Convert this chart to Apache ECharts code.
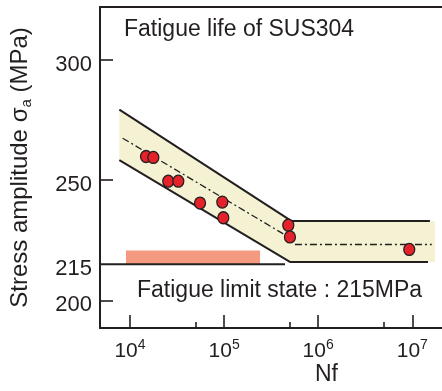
<!DOCTYPE html>
<html><head><meta charset="utf-8">
<script src="https://cdn.jsdelivr.net/npm/echarts@6/dist/echarts.min.js"></script>
<style>html,body{margin:0;padding:0;background:#fff}#c{width:442px;height:391px}</style>
</head><body><div id="c"></div>
<script>
// ---- axis ranges / ticks ----
const xMin = 4797, xMax = 20700000;
const yMin = 188.5, yMax = 322.1;
const xMajorTicks = [1e4, 1e5, 1e6, 1e7];
const xMinorTicks = [5e4, 5e5, 5e6];
const yTickMarks = [200, 250, 300];
const yTickLabels = [200, 215, 250, 300];

// ---- measured fatigue data ----
const pointNf = [14800, 17700, 25500, 32600, 55500, 95700, 98100, 481000, 501000, 9290000];
const pointStress = [259.9, 259.5, 249.6, 249.6, 240.5, 240.9, 234.4, 231.3, 226.4, 221.2];

// ---- scatter band boundaries ----
const upperNf = [7700, 522000, 15400000];
const upperStress = [279.4, 233.0, 233.0];
const lowerNf = [7700, 501000, 14700000];
const lowerStress = [258.4, 216.0, 216.0];
const fillUpperNf = [7700, 522000, 17400000];
const fillLowerNf = [7700, 501000, 17400000];

// ---- mean (dash-dot) line ----
const meanSlopeNf = [8360, 522000];
const meanSlopeStress = [267.5, 225.6];
const meanFlatNf = [566000, 16100000];
const meanFlatStress = [223.3, 223.3];

// ---- fatigue limit ----
const limitLineNf = [xMin, 444000];
const limitStress = 215;
const limitBarNf = [9060, 241000];
const limitBarStress = [215, 220.8];

const zip = (a, b) => a.map((v, i) => [v, b[i]]);
const ink = '#231f20';
const FONT = '"Liberation Sans", Arial, sans-serif';

const bandPoly = zip(fillUpperNf, upperStress).concat(zip(fillLowerNf, lowerStress).reverse());

const chart = echarts.init(document.getElementById('c'), null, {renderer: 'canvas'});
chart.setOption({
  animation: false,
  backgroundColor: '#fff',
  textStyle: {fontFamily: FONT, color: ink},
  grid: {left: 100, right: 0, top: 7, bottom: 63},
  xAxis: [
    {
      type: 'log', min: xMin, max: xMax, position: 'bottom',
      axisLine: {onZero: false, lineStyle: {color: ink, width: 2}},
      axisTick: {inside: true, length: 13, customValues: xMajorTicks, lineStyle: {color: ink, width: 1.6}},
      minorTick: {show: false},
      splitLine: {show: false},
      axisLabel: {
        customValues: xMajorTicks, margin: 10, color: ink,
        formatter: v => '{b|10}{s|' + Math.round(Math.log10(v)) + '}',
        rich: {
          b: {fontSize: 21, fontFamily: FONT, color: ink, lineHeight: 24, verticalAlign: 'bottom'},
          s: {fontSize: 14, fontFamily: FONT, color: ink, lineHeight: 24, verticalAlign: 'top'}
        }
      }
    },
    {
      type: 'log', min: xMin, max: xMax, position: 'bottom',
      axisLine: {show: false},
      axisTick: {inside: true, length: 6, customValues: xMinorTicks, lineStyle: {color: ink, width: 1.6}},
      axisLabel: {show: false},
      splitLine: {show: false}
    },
    {
      type: 'log', min: xMin, max: xMax, position: 'top',
      axisLine: {show: true, lineStyle: {color: ink, width: 2}},
      axisTick: {show: false}, axisLabel: {show: false}, splitLine: {show: false}
    }
  ],
  yAxis: [{
    type: 'value', min: yMin, max: yMax,
    axisLine: {show: true, onZero: false, lineStyle: {color: ink, width: 2}},
    axisTick: {show: true, inside: true, length: 13, customValues: yTickMarks, lineStyle: {color: ink, width: 1.6}},
    splitLine: {show: false},
    axisLabel: {
      customValues: yTickLabels, margin: 8,
      formatter: v => '{v|' + v + '}',
      rich: {v: {fontSize: 22, fontFamily: FONT, color: ink, padding: [10, 0, 0, 0]}}
    },
    name: '{n|Stress amplitude σ}{sub|a}{n| (MPa)}',
    nameLocation: 'middle', nameRotate: 90, nameGap: 66,
    nameTextStyle: {
      rich: {
        n: {fontSize: 24, fontFamily: FONT, color: ink, lineHeight: 28},
        sub: {fontSize: 15, fontFamily: FONT, color: ink, lineHeight: 28, verticalAlign: 'bottom'}
      }
    }
  }],
  graphic: [
    {type: 'text', left: 124, top: 18, style: {text: 'Fatigue life of SUS304', font: '23px ' + FONT, fill: ink}},
    {type: 'text', left: 137, top: 279, style: {text: 'Fatigue limit state : 215MPa', font: '23px ' + FONT, fill: ink}},
    {type: 'text', left: 315, top: 363, style: {text: 'Nf', font: '23px ' + FONT, fill: ink}}
  ],
  series: [
    {
      type: 'custom', silent: true, z: 1,
      data: [bandPoly[0]],
      renderItem: (params, api) => ({
        type: 'polygon',
        shape: {points: bandPoly.map(p => api.coord(p))},
        style: {fill: '#f4f2d3'}
      })
    },
    {type: 'line', data: zip(upperNf, upperStress), symbol: 'none', z: 3, silent: true,
     lineStyle: {color: ink, width: 2}},
    {type: 'line', data: zip(lowerNf, lowerStress), symbol: 'none', z: 3, silent: true,
     lineStyle: {color: ink, width: 2}},
    {type: 'line', data: zip(meanSlopeNf, meanSlopeStress), symbol: 'none', z: 3, silent: true,
     lineStyle: {color: ink, width: 1.3, type: [7, 3, 2, 3]}},
    {type: 'line', data: zip(meanFlatNf, meanFlatStress), symbol: 'none', z: 3, silent: true,
     lineStyle: {color: ink, width: 1.5, type: [7, 3, 2, 3]}},
    {type: 'line', data: limitLineNf.map(n => [n, limitStress]), symbol: 'none', z: 3, silent: true,
     lineStyle: {color: ink, width: 2},
     markArea: {silent: true, itemStyle: {color: '#f49a80', opacity: 1},
       data: [[{coord: [limitBarNf[0], limitBarStress[1]]}, {coord: [limitBarNf[1], limitBarStress[0]]}]]}},
    {type: 'scatter', data: zip(pointNf, pointStress), symbol: 'circle', symbolSize: [11, 12], z: 5,
     itemStyle: {color: '#e5222a', borderColor: ink, borderWidth: 1.3, opacity: 1}}
  ]
});
</script></body></html>
